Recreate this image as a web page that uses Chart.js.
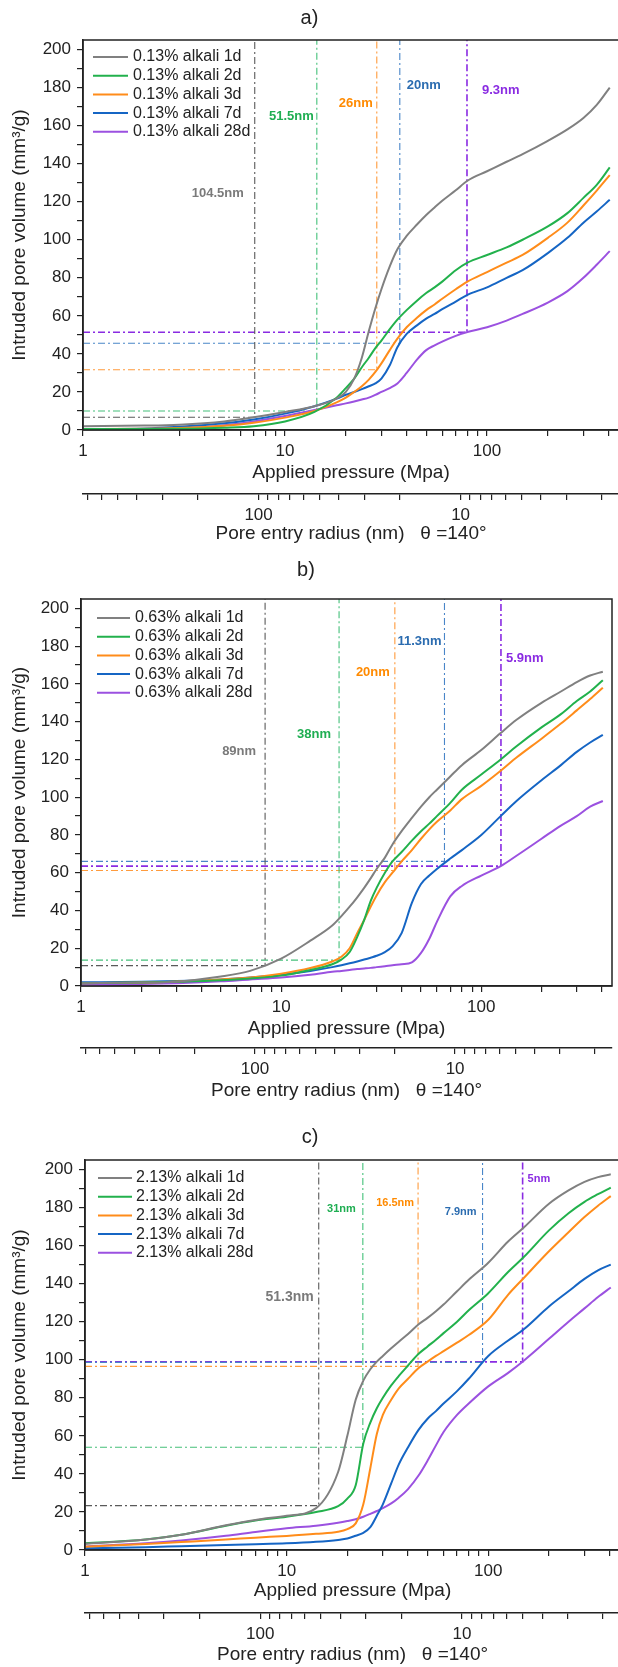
<!DOCTYPE html>
<html>
<head>
<meta charset="utf-8">
<script src="https://cdn.jsdelivr.net/npm/chart.js@4.4.1/dist/chart.umd.min.js"></script>
<style>
html, body { margin: 0; padding: 0; width: 618px; height: 1667px; overflow: hidden; background: #fff; }
.panel { position: absolute; left: 0; width: 622px; }
</style>
</head>
<body>
<div class="panel" style="top:0;height:550px"><canvas id="chartA"></canvas></div>
<div class="panel" style="top:550px;height:560px"><canvas id="chartB"></canvas></div>
<div class="panel" style="top:1110px;height:557px"><canvas id="chartC"></canvas></div>
<script>
// r(nm) * P(MPa) for theta = 140 deg (Washburn)
const WASHBURN = 740;
const P_MAX = 450;
const Y_MAX = 205;

const ages = ["1d", "2d", "3d", "7d", "28d"];

// applied pressure (MPa) where the curves were read
const pressure = [1, 2, 3, 5, 7, 10, 14, 18, 20, 22, 24, 26, 28, 30, 33, 36, 40, 45, 50, 55, 60, 70, 80, 100, 125, 150, 200, 250, 300, 350, 405];

// a) 0.13% alkali, intruded volume (mm3/g)
const a1d = [2, 2.3, 2.8, 4.5, 6.7, 9.5, 12.5, 16.5, 20, 27, 38, 52, 64, 74, 86, 95, 102, 108, 113, 117, 120.5, 126, 131, 136, 141, 145, 152, 158, 164, 171, 180];
const a2d = [0.5, 0.5, 0.6, 1.2, 2, 4.5, 9.5, 17, 22, 27, 33, 38, 43, 47, 53, 58, 63, 68, 72, 75, 78, 84, 88, 92, 96, 100, 107, 114, 122, 129, 138];
const a3d = [0.5, 0.6, 1, 2.2, 3.8, 6.5, 10, 14.5, 17, 20, 23, 26.5, 30.5, 35, 42, 48, 54, 59, 63, 66, 69, 74, 78, 83, 88, 92, 101, 109, 118, 126, 134];
const a7d = [0.5, 0.8, 1.7, 3.5, 5.5, 8.6, 12.5, 16.5, 18.5, 20, 21.5, 23, 24.5, 27, 34, 43.5, 50.5, 55, 58.5, 61, 63.5, 67.5, 71, 75, 80, 84, 93, 101, 109, 115, 121];
const a28d = [0.3, 0.5, 0.9, 2.5, 4.5, 7.4, 10.5, 13, 14, 15, 16, 17, 18.5, 20, 22, 24.5, 30, 37, 42, 44.5, 46.5, 49.5, 51.5, 54, 57.5, 61, 67, 73, 80, 87, 94];

// b) 0.63% alkali
const b1d = [1.5, 1.8, 2.3, 5, 8, 14.5, 24, 32, 37, 42, 47, 52, 57, 62, 68, 75, 82, 89, 95, 100, 104, 111, 117, 125, 134, 141, 150, 156, 161, 164.5, 166.5];
const b2d = [1.5, 1.8, 2.2, 3, 4, 5.5, 8.5, 11.5, 14, 18, 26, 35, 45, 52, 60, 66, 71, 77, 82, 86, 90, 97, 104, 112, 120, 127, 137, 144, 151, 156, 162];
const b3d = [1.5, 1.8, 2.4, 3.5, 4.5, 6.5, 9.5, 13, 15.5, 20, 28, 35, 42, 48, 55, 60, 66, 72, 78, 83, 87, 93, 99, 106, 114, 121, 131, 139, 146, 152, 158];
const b7d = [2, 2.2, 2.6, 3.5, 4.5, 6, 8, 10, 11, 12, 13, 14, 15, 16, 18, 21, 28, 44, 54, 58.5, 62, 67.5, 72, 80, 90, 98, 109, 117, 124, 129, 133];
const b28d = [0.5, 1, 1.5, 2.5, 3.5, 4.5, 6, 7.5, 8, 8.5, 9, 9.3, 9.6, 10, 10.5, 11, 11.5, 12.5, 17.5, 25, 34, 47.5, 53, 58.5, 63.5, 69, 78, 85, 90, 95, 98];

// c) 2.13% alkali
const c1d = [3.2, 5.5, 8, 13, 15.8, 18, 22, 41, 60, 79, 89, 95, 99, 102, 106, 109.5, 113.5, 118.5, 122, 125.5, 129, 136, 142, 151, 162, 169.5, 182, 189, 193.5, 196, 197.5];
const c2d = [3.5, 5.5, 8, 12.8, 15.5, 17.5, 20, 23, 27, 34, 56, 67, 74.5, 80, 86.5, 91.5, 97, 103, 107, 110.5, 114, 120, 126, 135, 146, 154, 168, 177, 183, 187, 190.5];
const c3d = [1.75, 3.2, 4.2, 5.5, 6.5, 7.4, 8.5, 9.6, 11, 14, 24, 43, 61, 71, 79, 85, 90, 95.5, 99, 102, 104.5, 109, 113, 121, 134, 143, 157, 167, 175, 181, 186];
const c7d = [0.9, 1.5, 2, 2.6, 3, 3.5, 4.3, 5.3, 6, 7.5, 9, 12, 18, 24, 35, 45, 54, 63, 69, 73, 77, 83.5, 90, 102, 110, 116, 128, 136, 142.5, 147, 150];
const c28d = [1.75, 3.5, 5, 7.5, 9.5, 11.4, 12.8, 14.3, 15.2, 16.2, 17.5, 19, 20.5, 22, 24.5, 27.5, 32, 39, 47, 55, 62, 71, 77, 86, 93, 99.5, 111, 120, 127, 133, 138];

// threshold pore radii (nm) and the volume where each curve reaches them
const aRadius = [104.5, 51.5, 26, 20, 9.3];
const aCross = [6.7, 10, 31.7, 45.6, 51.4];
const bRadius = [89, 38, 20, 11.3, 5.9];
const bCross = [10.8, 13.7, 61.2, 66, 63.5];
const cRadius = [51.3, 31, 16.5, 7.9, 5];
const cCross = [23.3, 54, 96.5, 98.6, 98.9];

// axis ticks
const pTicks = [1, 2, 3, 4, 5, 6, 7, 8, 9, 10, 20, 30, 40, 50, 60, 70, 80, 90, 100, 200, 300, 400];
const pLabels = [1, 10, 100];
const rTicks = [700, 600, 500, 400, 300, 200, 100, 90, 80, 70, 60, 50, 40, 30, 20, 10, 9, 8, 7, 6, 5, 4, 3, 2];
const rLabels = [100, 10];
const yTicks = [0, 10, 20, 30, 40, 50, 60, 70, 80, 90, 100, 110, 120, 130, 140, 150, 160, 170, 180, 190, 200];

const curveColors = ["#808080", "#22b14c", "#ff8c1a", "#1565c4", "#9b51e0"];
const refColors = ["#5a5a5a", "#45c07a", "#ff9b3d", "#4a86c8", "#8a2be2"];
const tagColors = ["#7a7a7a", "#1fae52", "#ff8a00", "#2b6cb0", "#8a2be2"];

const FONT = '"Liberation Sans", Arial, sans-serif';
Chart.defaults.font.family = FONT;
Chart.defaults.color = "#222";

const panels = [
    { id: "chartA", title: "a)", prefix: "0.13%", series: [a1d, a2d, a3d, a7d, a28d], radii: aRadius, cross: aCross,
      left: 83, padRight: 3, titlePad: { top: 6, bottom: 10 }, mainH: 64, subH: 56, xTitlePad: 9.6, rTitlePad: 4.6,
      leg: { top: 17, line: [10, 45], text: 50 },
      tagY: [124.6, 164.7, 171.8, 181, 178.4], tagDx: [-11, -3, -4, 7, 15], tagSize: [13, 13, 13, 13, 13] },
    { id: "chartB", title: "b)", prefix: "0.63%", series: [b1d, b2d, b3d, b7d, b28d], radii: bRadius, cross: bCross,
      left: 81, padRight: 10, titlePad: { top: 8, bottom: 17 }, mainH: 62, subH: 62, xTitlePad: 7.6, rTitlePad: 7.6,
      leg: { top: 19, line: [16, 49], text: 54 },
      tagY: [124.5, 133.5, 166, 182.7, 173.5], tagDx: [-9, -8, -5, -3, 5], tagSize: [13, 13, 13, 13, 13] },
    { id: "chartC", title: "c)", prefix: "2.13%", series: [c1d, c2d, c3d, c7d, c28d], radii: cRadius, cross: cCross,
      left: 85, padRight: 2, titlePad: { top: 15, bottom: 11 }, mainH: 63, subH: 54, xTitlePad: 10.6, rTitlePad: 0.6,
      leg: { top: 18, line: [13, 47], text: 51 },
      tagY: [132.8, 179, 182.5, 177.5, 195.2], tagDx: [-5, -7, -4, -6, 5], tagSize: [14, 11, 11, 11, 11] }
];

function decor(p) {
    return {
        id: "decor",
        afterDatasetsDraw(chart) {
            const { ctx, chartArea: a, scales } = chart;
            ctx.save();
            ctx.strokeStyle = "#222";
            ctx.lineWidth = 1.5;
            ctx.strokeRect(a.left, a.top, a.right - a.left, a.bottom - a.top);

            // legend inside the plot
            ctx.font = "16px " + FONT;
            ctx.textBaseline = "middle";
            ctx.textAlign = "left";
            chart.data.datasets.forEach((ds, i) => {
                if (ds.isRef) return;
                const y = a.top + p.leg.top + i * 18.7;
                ctx.strokeStyle = ds.borderColor;
                ctx.lineWidth = 2;
                ctx.beginPath();
                ctx.moveTo(a.left + p.leg.line[0], y);
                ctx.lineTo(a.left + p.leg.line[1], y);
                ctx.stroke();
                ctx.fillStyle = "#222";
                ctx.fillText(ds.label, a.left + p.leg.text, y);
            });

            // radius tags next to the threshold lines
            p.radii.forEach((r, i) => {
                const x = scales.x.getPixelForValue(WASHBURN / r);
                const y = scales.y.getPixelForValue(p.tagY[i]);
                ctx.font = "bold " + p.tagSize[i] + "px " + FONT;
                ctx.fillStyle = tagColors[i];
                ctx.textAlign = p.tagDx[i] < 0 ? "right" : "left";
                ctx.fillText(r + "nm", x + p.tagDx[i], y);
            });
            ctx.restore();
        }
    };
}

function renderPanel(p) {
    const datasets = [];
    p.series.forEach((vals, i) => {
        datasets.push({
            label: p.prefix + " alkali " + ages[i],
            data: pressure.map((x, k) => ({ x: x, y: vals[k] })),
            borderColor: curveColors[i],
            borderWidth: 2,
            pointRadius: 0,
            fill: false,
            cubicInterpolationMode: "monotone"
        });
    });
    p.radii.forEach((r, i) => {
        const px = WASHBURN / r;
        datasets.push({
            isRef: true,
            data: [{ x: 1, y: p.cross[i] }, { x: px, y: p.cross[i] }, { x: px, y: Y_MAX }],
            borderColor: refColors[i],
            borderWidth: i === 4 ? 1.6 : 1.1,
            borderDash: [7, 3, 2, 3],
            pointRadius: 0,
            tension: 0,
            fill: false
        });
    });

    const tickFont = { size: 17, family: FONT };
    const titleFont = { size: 19, family: FONT };
    const gridOpts = { drawOnChartArea: false, tickLength: 6, color: "#222", lineWidth: 1.2 };
    const borderOpts = { color: "#222", width: 1.5 };

    new Chart(document.getElementById(p.id), {
        type: "line",
        data: { datasets: datasets },
        options: {
            responsive: true,
            maintainAspectRatio: false,
            animation: false,
            layout: { padding: { left: 0, right: p.padRight, top: 0, bottom: 0 } },
            plugins: {
                legend: { display: false },
                tooltip: { enabled: false },
                title: { display: true, text: p.title, color: "#222", font: { size: 20, family: FONT, weight: "normal" }, padding: p.titlePad }
            },
            scales: {
                x: {
                    type: "logarithmic", position: "bottom", weight: 0, min: 1, max: P_MAX,
                    afterBuildTicks: s => { s.ticks = pTicks.map(v => ({ value: v })); },
                    afterFit: s => { s.height = p.mainH; },
                    ticks: { autoSkip: false, maxRotation: 0, padding: 5, font: tickFont, color: "#222",
                             callback: v => pLabels.includes(v) ? String(v) : "" },
                    grid: gridOpts, border: borderOpts,
                    title: { display: true, text: "Applied pressure (Mpa)", font: titleFont, color: "#222", padding: { top: 0, bottom: p.xTitlePad } }
                },
                x2: {
                    axis: "x", type: "logarithmic", position: "bottom", weight: 1, reverse: true,
                    min: WASHBURN / P_MAX, max: WASHBURN,
                    afterBuildTicks: s => { s.ticks = rTicks.map(v => ({ value: v })); },
                    afterFit: s => { s.height = p.subH; },
                    ticks: { autoSkip: false, maxRotation: 0, padding: 5, font: tickFont, color: "#222",
                             callback: v => rLabels.includes(v) ? String(v) : "" },
                    grid: gridOpts, border: borderOpts,
                    title: { display: true, text: "Pore entry radius (nm)   \u03b8 =140\u00b0", font: titleFont, color: "#222", padding: { top: 0, bottom: p.rTitlePad } }
                },
                y: {
                    type: "linear", position: "left", min: 0, max: Y_MAX,
                    afterBuildTicks: s => { s.ticks = yTicks.map(v => ({ value: v })); },
                    afterFit: s => { s.width = p.left; },
                    ticks: { autoSkip: false, padding: 6, font: tickFont, color: "#222",
                             callback: v => v % 20 === 0 ? String(v) : "" },
                    grid: gridOpts, border: borderOpts,
                    title: { display: true, text: "Intruded pore volume (mm\u00b3/g)", font: titleFont, color: "#222", padding: { top: 8, bottom: 0 } }
                }
            }
        },
        plugins: [decor(p)]
    });
}

panels.forEach(renderPanel);
</script>
</body>
</html>
